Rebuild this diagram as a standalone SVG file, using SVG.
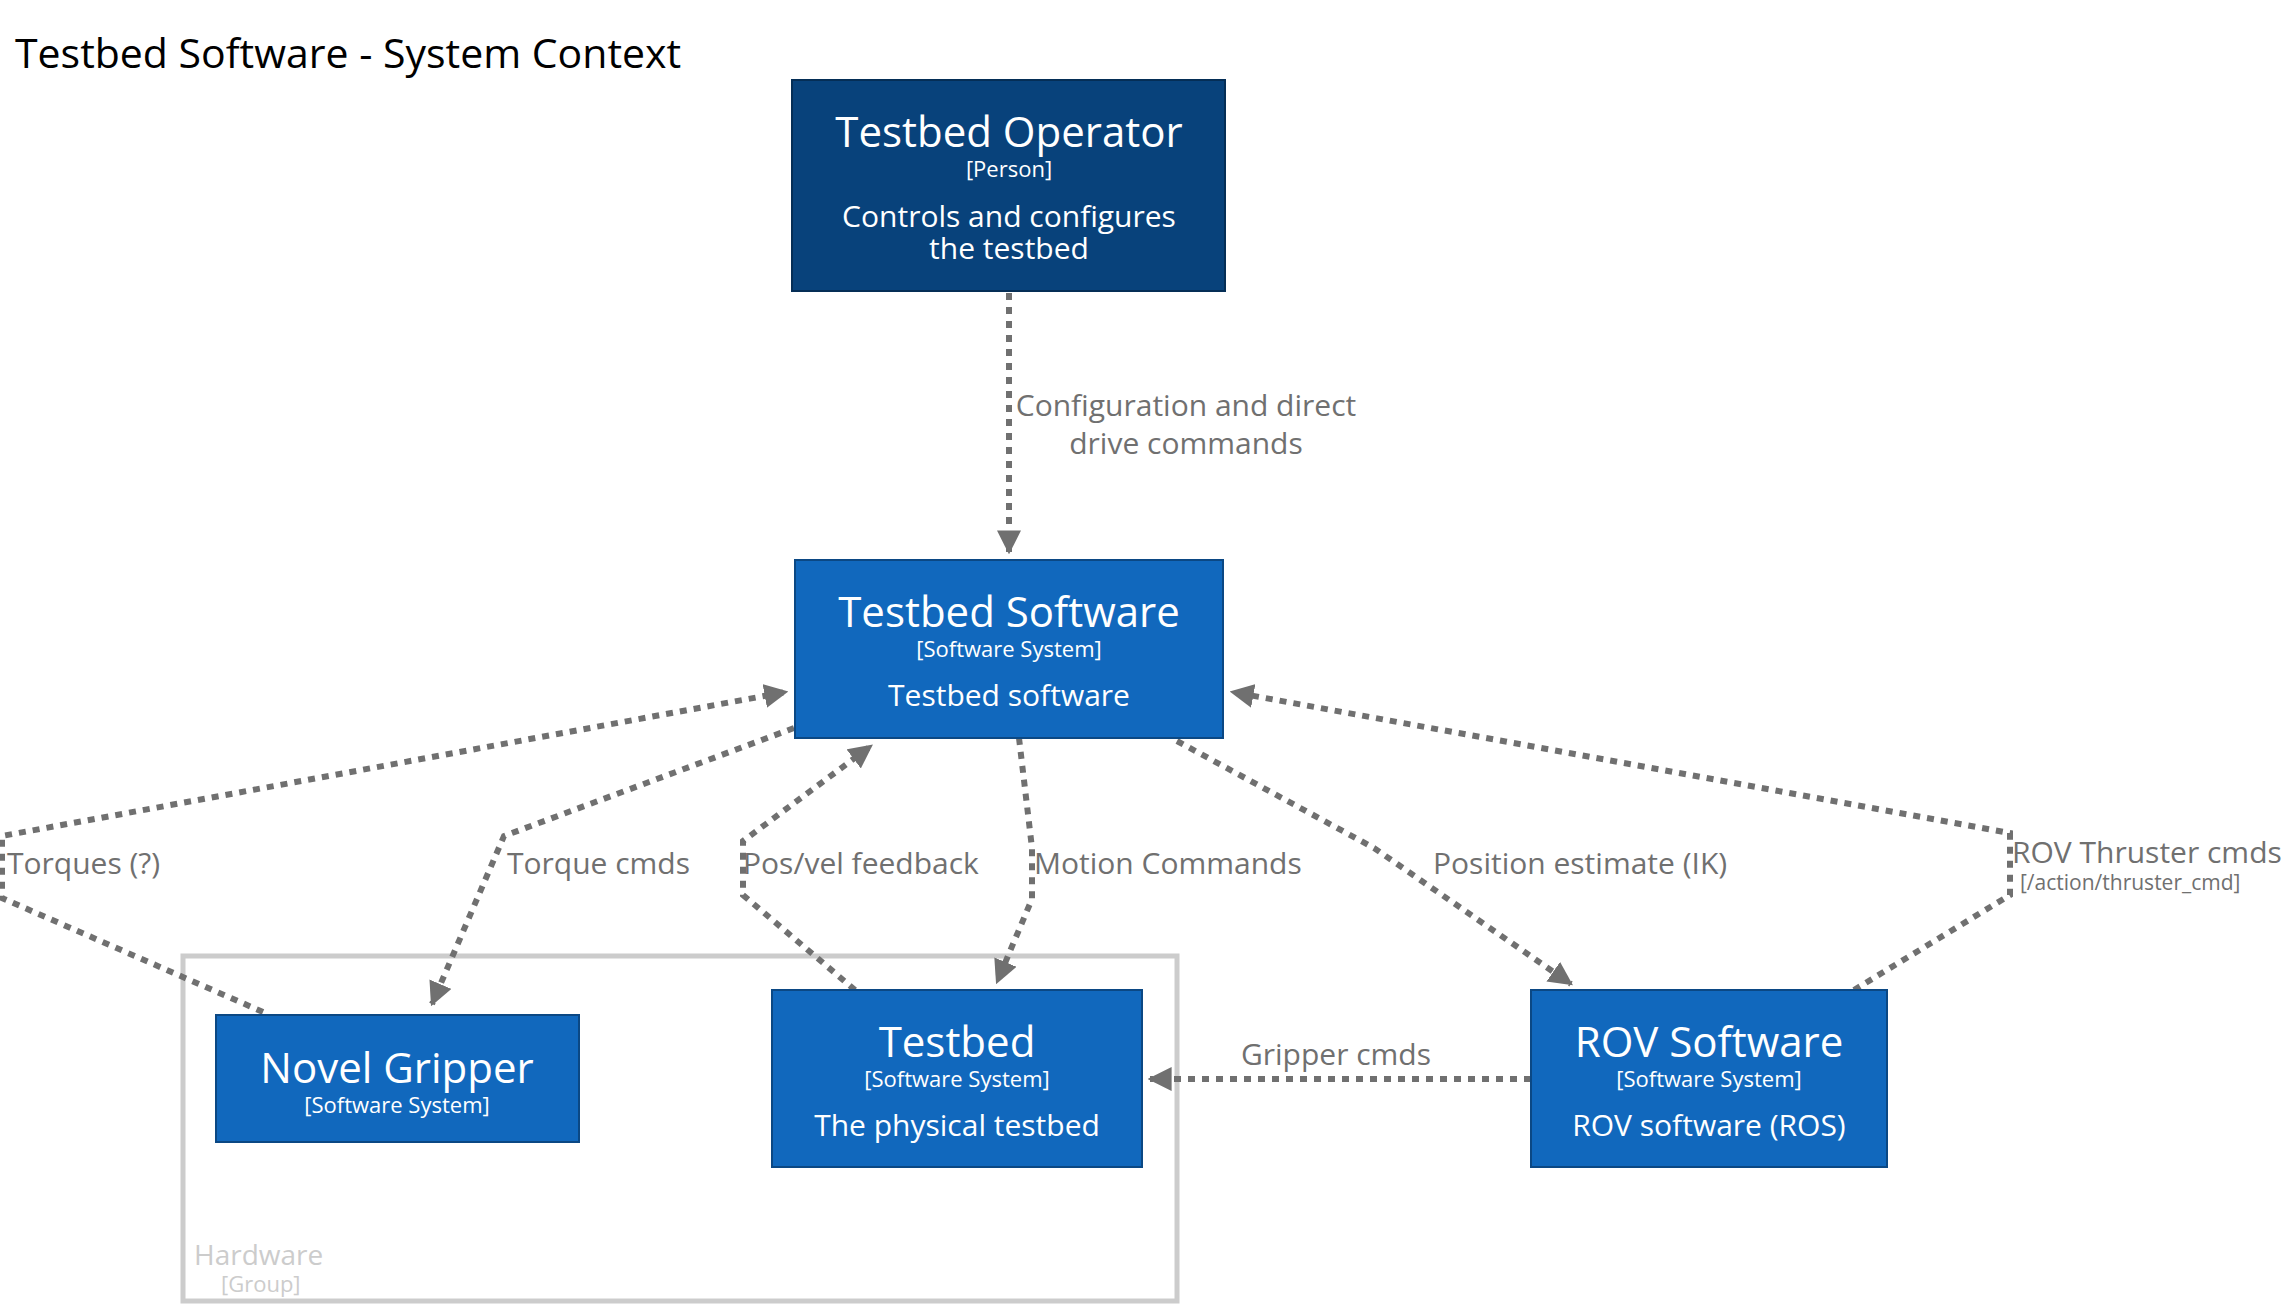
<svg xmlns="http://www.w3.org/2000/svg" width="2288" height="1315" viewBox="0 0 2288 1315">
<style>
text{font-family:"Open Sans","Noto Sans","DejaVu Sans",sans-serif}
.n{fill:#1168bd;stroke:#0b4884;stroke-width:2}
.t{fill:#fff;font-size:42px;text-anchor:middle}
.s{fill:#fff;font-size:22px;text-anchor:middle}
.d{fill:#fff;font-size:30px;text-anchor:middle}
.e{fill:none;stroke:#707070;stroke-width:6;stroke-dasharray:7 7}
.l{fill:#707070;font-size:30px}
</style>
<defs><marker id="ah" viewBox="0 0 10 10" refX="9" refY="5" markerWidth="24" markerHeight="24" orient="auto" markerUnits="userSpaceOnUse"><path d="M0,0 L10,5 L0,10 z" fill="#707070"/></marker></defs>
<rect width="2288" height="1315" fill="#fff"/>
<text x="15" y="68" font-size="41" fill="#000">Testbed Software - System Context</text>
<g id="group-hardware"><rect x="183" y="956" width="994" height="345" fill="none" stroke="#cccccc" stroke-width="5"/>
<text x="194" y="1265" fill="#cccccc" font-size="28">Hardware</text><text x="221" y="1292" fill="#cccccc" font-size="22">[Group]</text></g>
<g id="connectors">
<path class="e" d="M1009,293 L1009,552" marker-end="url(#ah)"/>
<path class="e" d="M263,1012 L2,898 L2,836 L786,692" marker-end="url(#ah)"/>
<path class="e" d="M794,728 L504,836 L432,1004" marker-end="url(#ah)"/>
<path class="e" d="M855,990 L743,895 L743,841 L871,746" marker-end="url(#ah)"/>
<path class="e" d="M1019,738 L1032,848 L1032,899 L997,982" marker-end="url(#ah)"/>
<path class="e" d="M1177,741 L1374,848 L1571,984" marker-end="url(#ah)"/>
<path class="e" d="M1854,990 L2010,895 L2010,833 L1232,692" marker-end="url(#ah)"/>
<path class="e" d="M1531,1079 L1150,1079" marker-end="url(#ah)"/>
<text class="l" x="1186" y="416" text-anchor="middle">Configuration and direct</text>
<text class="l" x="1186" y="454" text-anchor="middle">drive commands</text>
<text class="l" x="7" y="874">Torques (?)</text>
<text class="l" x="507" y="874">Torque cmds</text>
<text class="l" x="743" y="874">Pos/vel feedback</text>
<text class="l" x="1034" y="874">Motion Commands</text>
<text class="l" x="1433" y="874">Position estimate (IK)</text>
<text class="l" x="2012" y="863">ROV Thruster cmds</text>
<text x="2020" y="890" fill="#707070" font-size="21">[/action/thruster_cmd]</text>
<text class="l" x="1336" y="1065" text-anchor="middle">Gripper cmds</text>
</g>
<g id="testbed-operator"><rect x="792" y="80" width="433" height="211" fill="#08427b" stroke="#052e56" stroke-width="2"/>
<text class="t" x="1009" y="147">Testbed Operator</text><text class="s" x="1009" y="177">[Person]</text>
<text class="d" x="1009" y="227">Controls and configures</text><text class="d" x="1009" y="259">the testbed</text></g>
<g id="testbed-software"><rect class="n" x="795" y="560" width="428" height="178"/>
<text class="t" x="1009" y="627">Testbed Software</text><text class="s" x="1009" y="657">[Software System]</text>
<text class="d" x="1009" y="706">Testbed software</text></g>
<g id="novel-gripper"><rect class="n" x="216" y="1015" width="363" height="127"/>
<text class="t" x="397" y="1083">Novel Gripper</text><text class="s" x="397" y="1113">[Software System]</text></g>
<g id="testbed"><rect class="n" x="772" y="990" width="370" height="177"/>
<text class="t" x="957" y="1057">Testbed</text><text class="s" x="957" y="1087">[Software System]</text>
<text class="d" x="957" y="1136">The physical testbed</text></g>
<g id="rov-software"><rect class="n" x="1531" y="990" width="356" height="177"/>
<text class="t" x="1709" y="1057">ROV Software</text><text class="s" x="1709" y="1087">[Software System]</text>
<text class="d" x="1709" y="1136">ROV software (ROS)</text></g>
</svg>
